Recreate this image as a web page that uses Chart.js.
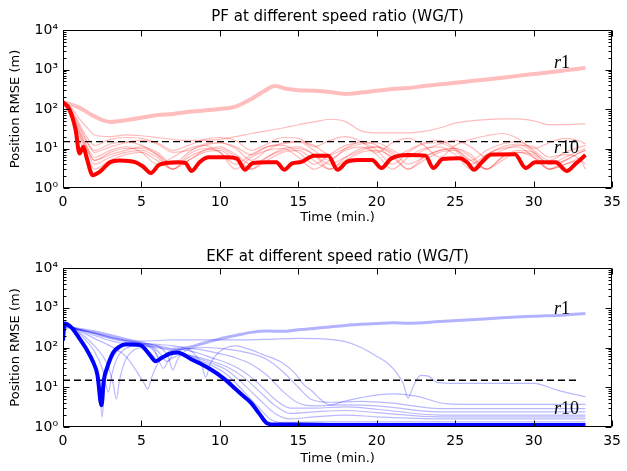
<!DOCTYPE html>
<html>
<head>
<meta charset="utf-8">
<script src="https://cdn.jsdelivr.net/npm/chart.js@4.4.0/dist/chart.umd.min.js"></script>
<style>
  html, body { margin: 0; padding: 0; background: #fff; }
  #wrap { position: relative; width: 627px; height: 471px; }
  .panel { position: absolute; left: 0; width: 627px; }
  #pfBox { top: 0; height: 235px; }
  #ekfBox { top: 235px; height: 236px; }
</style>
</head>
<body>
<div id="wrap">
  <div class="panel" id="pfBox"><canvas id="pfChart"></canvas></div>
  <div class="panel" id="ekfBox"><canvas id="ekfChart"></canvas></div>
</div>
<script>
// ticks
var xTicks = [0, 5, 10, 15, 20, 25, 30, 35];
var yTicks = [1, 10, 100, 1000, 10000];
var yTickLabels = ['10⁰', '10¹', '10²', '10³', '10⁴'];
var threshold = 15;
var thresholdEnd = 32.8;

var pfTitle = 'PF at different speed ratio (WG/T)';
var ekfTitle = 'EKF at different speed ratio (WG/T)';
var xTitle = 'Time (min.)';
var yTitle = 'Position RMSE (m)';

// PF, ratio r1 (top light curve) and r10 (thick)
var pfR1 = [[0,150],[1,110],[2,65],[3,47],[4,52],[5,60],[6,70],[7,75],[8,85],[9,92],[10,100],[11,115],[12,180],
  [12.8,280],[13.5,380],[14.3,320],[15,300],[16,290],[17,270],[18,240],[19,260],[20,290],[21,320],[22,340],
  [23,380],[24,420],[25,460],[26,510],[27,560],[28,620],[29,690],[30,770],[31,850],[32,950],[33.3,1100]];
var pfR10 = [[0,150],[0.4,100],[0.8,30],[1.05,7.5],[1.3,11],[1.5,6],[1.9,2.1],[2.3,2.5],[3,4.5],[3.6,5],[4.6,4.5],
  [5.1,3.5],[5.6,2.4],[6.1,3.8],[6.6,4.3],[7.3,4.5],[7.8,4.3],[8.2,2.7],[8.7,4.5],[9.3,6],[10.5,6],[11.1,5.5],
  [11.6,2.9],[12.1,4.3],[13,4.5],[13.6,4.5],[14.1,2.9],[14.6,4.2],[15.2,4.6],[16,6.6],[16.9,6.6],[17.5,2.9],
  [18.1,4.6],[18.8,5.1],[19.7,5.1],[20.3,3.2],[20.9,5.5],[22,6.8],[23.1,6.6],[23.6,3.2],[24.2,5.4],[25.3,5.7],
  [25.8,4.3],[26.2,2.9],[26.7,4.5],[27.3,7],[28.8,7.2],[29.5,3.2],[30.1,4.5],[31.4,4.5],[32.1,2.7],[32.7,4.2],[33.3,6.8]];

// PF, other ratios, sampled on one time grid
var pfThinT = [0,0.5,1,1.5,2,3,4,5,6,7,8,9,10,11,12,13,14,15,16,17,18,19,20,21,22,23,24,25,26,27,28,29,30,31,32,33,33.3];
var pfThin = [
  [150,110,60,35,22, 20,22,21,19,17, 16,16,17,20,24, 28,33,40,47,55, 48,28,25,25,25, 27,33,44,50,54, 56,56,50,40,40, 42, 42],
  [150,100,45,20,12, 17,19,18,14,9, 12,17,19,16,9, 13,19,18,11,16, 20,15,8,14,18, 12,6,12,17,21, 24,18,10,14,18, 15, 13],
  [150,90,35,15,9, 13,15,12,7,4, 8,13,14,10,5, 9,14,15,9,5, 10,15,12,6,9, 14,16,10,5,9, 13,15,9,5,8, 11, 12],
  [150,80,30,12,6, 9,11,8,4,6, 10,12,8,4,7, 11,12,8,4,7, 12,14,9,4,8, 13,14,9,4,7, 11,13,8,4,6, 9, 10],
  [150,70,22,9,4, 6,8,9,6,3, 6,9,10,6,3, 6,9,10,7,3, 6,10,11,7,3, 6,9,10,6,3, 6,9,8,4,5, 8, 9],
  [140,60,18,7,3, 5,7,8,5,3, 5,8,9,5,3, 5,8,9,5,3, 5,8,9,6,3, 5,8,9,5,3, 5,8,6,3,4, 6, 7],
  [150,75,25,10,5, 7,9,11,8,4, 5,9,11,7,4, 6,10,11,7,4, 6,9,11,8,4, 6,9,10,7,3, 6,8,7,3,4, 5, 4],
  [150,95,40,16,8, 11,14,16,13,8, 9,12,14,11,7, 11,13,15,12,7, 10,13,14,9,6, 9,13,16,11,6, 9,12,11,6,7, 5, 3],
  [150,85,28,11,5, 8,10,10,7,3, 7,10,8,3,6, 9,10,6,3,5, 9,11,7,3,6, 10,11,7,3,7, 10,11,6,3,5, 8, 9]
];

// EKF
var ekfR1 = [[0,150],[0.1,330],[1,290],[2,250],[3,200],[4,160],[5,130],[6,105],[7,90],[8,100],[9,130],[10,165],
  [11,200],[12,240],[13,260],[14,255],[15,280],[16,300],[17,330],[18,360],[20,400],[21,420],[22,410],[24,450],
  [26,500],[28,560],[30,610],[32,660],[33.3,720]];
var ekfR10 = [[0,150],[0.1,400],[0.5,330],[1,180],[1.5,90],[1.9,45],[2.2,20],[2.45,3.5],[2.6,15],[2.8,30],[3.2,75],
  [3.6,105],[4,120],[4.9,115],[5.3,85],[5.6,60],[5.9,45],[6.3,55],[6.8,70],[7.3,75],[8.2,50],[9.3,30],[10.3,16],
  [11,9],[11.5,6],[12,4],[12.5,2.2],[13,1.25],[13.5,1.15],[15,1.15],[17,1.13],[20,1.12],[25,1.13],[33.3,1.12]];
var ekfThin = [
  [[0,140],[0.1,380],[0.5,320],[1,190],[1.5,95],[2,40],[2.3,12],[2.5,1.8],[2.65,10],[3,40],[3.5,85],[4,110],[5,110],
   [5.6,70],[6,50],[6.5,55],[7,68],[7.5,70],[8.5,50],[9.5,35],[10.5,20],[11.5,8],[12.5,3],[13.3,1.5],[14,1.3],
   [16,1.35],[20,1.35],[33.3,1.35]],
  [[0,200],[0.1,390],[1,230],[2,80],[2.5,30],[2.9,7.5],[3.1,20],[3.5,60],[4,95],[4.5,110],[5.2,115],[5.7,90],
   [6.2,55],[6.8,70],[7.5,72],[8.5,55],[9.5,40],[10.5,26],[11.5,12],[12.5,5],[13.5,2.2],[14.5,1.6],[16,1.8],
   [18,2],[20,1.8],[24,1.6],[33.3,1.6]],
  [[0,250],[0.1,380],[1,250],[2,110],[2.8,40],[3.2,12],[3.4,5],[3.6,15],[4,50],[4.5,85],[5,100],[5.6,105],
   [6.2,70],[6.6,45],[7,55],[7.6,65],[8.5,58],[9.5,45],[10.5,32],[11.5,18],[12.5,8],[13.5,3.5],[14.5,2.2],
   [16,2.4],[18,2.6],[20,2.3],[24,1.8],[33.3,1.8]],
  [[0,280],[0.1,370],[1,270],[2,170],[3,110],[4,60],[4.7,25],[5.2,12],[5.4,9],[5.7,20],[6.2,50],[6.8,80],
   [7.5,90],[8.5,75],[9.5,55],[10.5,40],[11.5,25],[12.5,12],[13.5,5],[14.5,3],[16,3],[18,3.2],[20,2.8],
   [24,2.0],[33.3,2.0]],
  [[0,300],[0.1,360],[1,280],[2,200],[3,150],[4,125],[5,120],[5.8,90],[6.4,30],[6.7,45],[7.2,80],[8,95],
   [9,85],[10,70],[11,55],[12,38],[13,20],[14,8],[15,4],[16,3.4],[18,3.6],[20,3.4],[24,2.4],[33.3,2.4]],
  [[0,310],[0.1,350],[1,290],[2,220],[3,170],[4,140],[5,125],[6,110],[6.7,60],[7,27],[7.3,50],[8,90],[9,100],
   [10,95],[11,85],[12,70],[13,50],[14,25],[15,10],[15.8,5],[17,4.2],[19,4.4],[21,4],[24,2.9],[33.3,2.9]],
  [[0,310],[0.1,340],[1,290],[2,230],[3,180],[4,150],[5,130],[6,120],[7,110],[8,90],[8.8,40],[9.1,18],[9.4,40],
   [10,80],[11,110],[11.8,92],[12.8,65],[13.9,43],[14.8,22],[15.4,11],[15.8,8.5],[16.4,5],[17,3.6],[18,4.5],
   [19,5.5],[21,6.8],[22.5,6],[24.5,3.8],[26,3.7],[33.3,3.7]],
  [[0,300],[0.1,330],[1,280],[2,230],[3,180],[4,150],[5,145],[6,150],[7,155],[9,155],[11,155],[13,160],[15,170],
   [17,160],[18,140],[19,100],[20,60],[20.7,40],[21.3,22],[21.7,12],[22,5.3],[22.3,10],[22.8,20],[23.3,19],
   [23.9,13],[25,12.5],[28,12.5],[30,12.5],[31.5,8.5],[33.3,5.7]]
];

Chart.defaults.font.family = '"DejaVu Sans", sans-serif';
Chart.defaults.color = '#000';

function toPoints(pairs) {
    return pairs.map(function (p) { return { x: p[0], y: p[1] }; });
}

function lineSet(pairs, color, width, order) {
    return {
        data: toPoints(pairs),
        borderColor: color,
        borderWidth: width,
        pointRadius: 0,
        fill: false,
        cubicInterpolationMode: 'monotone',
        order: order
    };
}

function dashedSet() {
    return {
        data: toPoints([[0, threshold], [thresholdEnd, threshold]]),
        borderColor: '#000',
        borderWidth: 1.3,
        borderDash: [7, 4],
        pointRadius: 0,
        fill: false,
        order: 1
    };
}

// frame, inward ticks, title and r1/r10 labels
var framePlugin = {
    id: 'frame',
    afterDraw: function (chart, args, opts) {
        var ctx = chart.ctx;
        var a = chart.chartArea;
        var xs = chart.scales.x, ys = chart.scales.y;
        var L = Math.round(a.left) + 0.5, R = Math.round(a.right) - 0.5;
        var T = Math.round(a.top) + 0.5, B = Math.round(a.bottom) - 0.5;
        ctx.save();
        ctx.strokeStyle = '#000';
        ctx.lineWidth = 1;
        ctx.beginPath();
        ctx.rect(L, T, R - L, B - T);
        xTicks.forEach(function (v) {
            var px = Math.round(xs.getPixelForValue(v)) + 0.5;
            ctx.moveTo(px, B); ctx.lineTo(px, B - 6);
            ctx.moveTo(px, T); ctx.lineTo(px, T + 6);
        });
        yTicks.forEach(function (v, i) {
            var py = Math.round(ys.getPixelForValue(v)) + 0.5;
            ctx.moveTo(L, py); ctx.lineTo(L + 6, py);
            ctx.moveTo(R, py); ctx.lineTo(R - 6, py);
            if (i < yTicks.length - 1) {
                for (var m = 2; m < 10; m++) {
                    var pm = Math.round(ys.getPixelForValue(v * m)) + 0.5;
                    ctx.moveTo(L, pm); ctx.lineTo(L + 3, pm);
                    ctx.moveTo(R, pm); ctx.lineTo(R - 3, pm);
                }
            }
        });
        ctx.stroke();

        ctx.fillStyle = '#000';
        ctx.font = '15px "DejaVu Sans"';
        ctx.textAlign = 'center';
        ctx.textBaseline = 'middle';
        ctx.fillText(opts.title, (a.left + a.right) / 2, opts.titleY);

        ctx.textAlign = 'left';
        opts.labels.forEach(function (l) {
            var px = xs.getPixelForValue(l.t);
            var py = ys.getPixelForValue(l.v);
            ctx.font = 'italic 18px "Liberation Serif"';
            ctx.fillText('r', px, py);
            var w = ctx.measureText('r').width;
            ctx.font = '18px "Liberation Serif"';
            ctx.fillText(l.sub, px + w, py);
        });
        ctx.restore();
    }
};

function makeOptions(cfg) {
    return {
        responsive: true,
        maintainAspectRatio: false,
        animation: false,
        layout: { padding: { top: cfg.top, right: 7, left: 0, bottom: 0 } },
        plugins: {
            legend: { display: false },
            tooltip: { enabled: false },
            frame: { title: cfg.title, titleY: cfg.titleY, labels: cfg.labels }
        },
        scales: {
            x: {
                type: 'linear',
                min: 0,
                max: 35,
                afterBuildTicks: function (scale) {
                    scale.ticks = xTicks.map(function (v) { return { value: v }; });
                },
                afterFit: function (scale) { scale.height = cfg.xHeight; },
                ticks: { autoSkip: false, maxRotation: 0, padding: 6, font: { size: 14 } },
                grid: { display: false, drawTicks: false },
                border: { display: false },
                title: { display: true, text: xTitle, font: { size: 13 }, padding: { top: 0, bottom: cfg.xTitlePad } }
            },
            y: {
                type: 'logarithmic',
                min: 1,
                max: 10000,
                afterBuildTicks: function (scale) {
                    scale.ticks = yTicks.map(function (v) { return { value: v }; });
                },
                afterFit: function (scale) { scale.width = 63; },
                ticks: {
                    autoSkip: false,
                    padding: 5,
                    font: { size: 14 },
                    callback: function (value) { return yTickLabels[yTicks.indexOf(value)]; }
                },
                grid: { display: false, drawTicks: false },
                border: { display: false },
                title: { display: true, text: yTitle, font: { size: 13 }, padding: { top: 8, bottom: 0 } }
            }
        }
    };
}

var pfSets = [lineSet(pfR10, 'rgb(255,0,0)', 4, 0), dashedSet(), lineSet(pfR1, 'rgba(255,0,0,0.26)', 4, 2)];
pfThin.forEach(function (vals) {
    pfSets.push(lineSet(pfThinT.map(function (t, i) { return [t, vals[i]]; }), 'rgba(255,0,0,0.27)', 1.2, 3));
});

var ekfSets = [lineSet(ekfR10, 'rgb(0,0,255)', 4, 0), dashedSet(), lineSet(ekfR1, 'rgba(0,0,255,0.3)', 3, 2)];
ekfThin.forEach(function (pairs) {
    ekfSets.push(lineSet(pairs, 'rgba(0,0,255,0.28)', 1.2, 3));
});

new Chart(document.getElementById('pfChart'), {
    type: 'line',
    data: { datasets: pfSets },
    options: makeOptions({
        top: 30, xHeight: 47, xTitlePad: 10, title: pfTitle, titleY: 17,
        labels: [{ sub: '1', t: 31.3, v: 1450 }, { sub: '10', t: 31.3, v: 10.3 }]
    }),
    plugins: [framePlugin]
});

new Chart(document.getElementById('ekfChart'), {
    type: 'line',
    data: { datasets: ekfSets },
    options: makeOptions({
        top: 33, xHeight: 44, xTitlePad: 5, title: ekfTitle, titleY: 22,
        labels: [{ sub: '1', t: 31.3, v: 930 }, { sub: '10', t: 31.3, v: 2.8 }]
    }),
    plugins: [framePlugin]
});
</script>
</body>
</html>
